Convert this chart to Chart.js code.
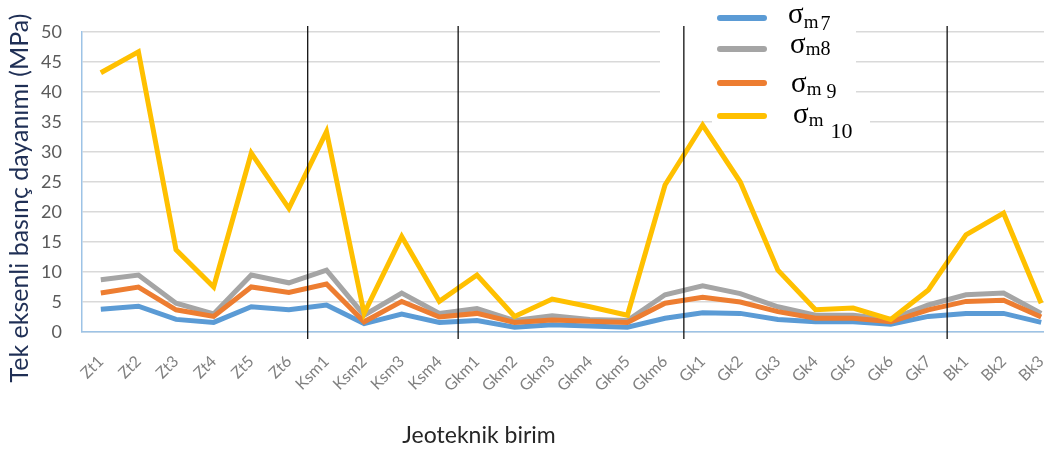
<!DOCTYPE html>
<html>
<head>
<meta charset="utf-8">
<script src="https://cdn.jsdelivr.net/npm/chart.js@4.4.1/dist/chart.umd.min.js"></script>
<style>
  html, body { margin: 0; padding: 0; background: #fff; overflow: hidden; }
  #wrap { width: 1060px; height: 455px; }
</style>
</head>
<body>
<div id="wrap"><canvas id="chart" width="1060" height="455"></canvas></div>
<script>
const units = ['Zt1', 'Zt2', 'Zt3', 'Zt4', 'Zt5', 'Zt6', 'Ksm1', 'Ksm2', 'Ksm3', 'Ksm4',
  'Gkm1', 'Gkm2', 'Gkm3', 'Gkm4', 'Gkm5', 'Gkm6', 'Gk1', 'Gk2', 'Gk3', 'Gk4', 'Gk5', 'Gk6', 'Gk7',
  'Bk1', 'Bk2', 'Bk3'];

const sigma7 = [3.8, 4.3, 2.1, 1.6, 4.2, 3.7, 4.5, 1.4, 3.0, 1.6, 1.9, 0.8, 1.2, 1.0, 0.8, 2.3,
  3.2, 3.1, 2.1, 1.7, 1.7, 1.3, 2.6, 3.1, 3.1, 1.6];
const sigma8 = [8.7, 9.5, 4.8, 3.0, 9.5, 8.2, 10.3, 2.8, 6.5, 3.1, 3.9, 1.9, 2.7, 2.1, 1.9, 6.2,
  7.7, 6.4, 4.2, 2.8, 2.8, 2.1, 4.5, 6.2, 6.5, 3.1];
const sigma9 = [6.5, 7.5, 3.7, 2.6, 7.5, 6.6, 8.0, 1.7, 5.1, 2.5, 3.1, 1.6, 2.0, 1.8, 1.6, 4.8,
  5.8, 5.0, 3.4, 2.3, 2.3, 1.7, 3.7, 5.1, 5.3, 2.5];
const sigma10 = [43.2, 46.7, 13.7, 7.5, 29.8, 20.6, 33.4, 3.1, 15.9, 5.1, 9.5, 2.6, 5.5, 4.2, 2.8, 24.5,
  34.5, 25.0, 10.3, 3.7, 4.0, 2.1, 7.0, 16.2, 19.8, 4.8];

// last unit of each group, a divider is drawn after it
const groupEnds = ['Zt6', 'Ksm4', 'Gkm6', 'Gk7'];

const yTicks = [0, 5, 10, 15, 20, 25, 30, 35, 40, 45, 50];

const legendItems = [
  { sub: 'm', idx: '7', color: '#5b9bd5' },
  { sub: 'm', idx: '8', color: '#a5a5a5' },
  { sub: 'm', idx: '9', color: '#ed7d31' },
  { sub: 'm', idx: '10', color: '#ffc000' }
];

const serif = '"Liberation Serif", "DejaVu Serif", serif';

// white box behind the pasted legend + custom legend with subscripts
const legendPlugin = {
  id: 'sigmaLegend',
  beforeDatasetsDraw(chart) {
    const ctx = chart.ctx;
    ctx.save();
    ctx.fillStyle = '#fff';
    ctx.fillRect(660, 0, 196, 100);
    ctx.fillRect(712, 100, 158, 42);
    ctx.restore();
  },
  afterDraw(chart) {
    const ctx = chart.ctx;
    const rows = [
      { y: 18, sx: 788, sy: 23, my: 28, iy: 30, gap: 2 },
      { y: 49, sx: 790, sy: 53, my: 55, iy: 55, gap: 0 },
      { y: 83, sx: 791, sy: 92, my: 95, iy: 98, gap: 5 },
      { y: 116, sx: 793, sy: 123, my: 126, iy: 138, gap: 7 }
    ];
    ctx.save();
    legendItems.forEach((it, i) => {
      const r = rows[i];
      ctx.strokeStyle = it.color;
      ctx.lineWidth = 6;
      ctx.lineCap = 'round';
      ctx.beginPath();
      ctx.moveTo(720, r.y);
      ctx.lineTo(764, r.y);
      ctx.stroke();

      ctx.fillStyle = '#000';
      ctx.textBaseline = 'alphabetic';
      ctx.textAlign = 'left';
      ctx.font = '29px ' + serif;
      ctx.fillText('σ', r.sx, r.sy);
      let x = r.sx + ctx.measureText('σ').width;
      ctx.font = '19px ' + serif;
      ctx.fillText(it.sub, x, r.my);
      x += ctx.measureText(it.sub).width + r.gap;
      ctx.font = (i === 3 ? '22px ' : '20px ') + serif;
      ctx.fillText(it.idx, x, r.iy);
    });
    ctx.restore();
  }
};

const dividerPlugin = {
  id: 'dividers',
  afterDatasetsDraw(chart) {
    const xs = chart.scales.x;
    const ctx = chart.ctx;
    ctx.save();
    ctx.strokeStyle = '#111';
    ctx.lineWidth = 1.3;
    groupEnds.forEach((name) => {
      const i = units.indexOf(name);
      const x = (xs.getPixelForValue(i) + xs.getPixelForValue(i + 1)) / 2;
      ctx.beginPath();
      ctx.moveTo(x, 26);
      ctx.lineTo(x, 339);
      ctx.stroke();
    });
    ctx.restore();
  }
};

const titlesPlugin = {
  id: 'axisTitles',
  afterDraw(chart) {
    const ctx = chart.ctx;
    ctx.save();
    ctx.textAlign = 'center';
    ctx.textBaseline = 'middle';
    ctx.fillStyle = '#1f2f55';
    ctx.font = '25px Lato';
    ctx.translate(20, 198);
    ctx.rotate(-Math.PI / 2);
    ctx.fillText('Tek eksenli basınç dayanımı (MPa)', 0, 0);
    ctx.restore();

    ctx.save();
    ctx.textAlign = 'center';
    ctx.textBaseline = 'middle';
    ctx.fillStyle = '#262626';
    ctx.font = '23px Lato';
    ctx.fillText('Jeoteknik birim', 479, 436);
    ctx.restore();
  }
};

function series(label, data, color, order) {
  return {
    label,
    data,
    borderColor: color,
    backgroundColor: color,
    borderWidth: 5,
    pointRadius: 0,
    tension: 0,
    order
  };
}

new Chart(document.getElementById('chart'), {
  type: 'line',
  data: {
    labels: units,
    datasets: [
      series('σm7', sigma7, '#5b9bd5', 3),
      series('σm8', sigma8, '#a5a5a5', 2),
      series('σm9', sigma9, '#ed7d31', 1),
      series('σm10', sigma10, '#ffc000', 0)
    ]
  },
  options: {
    responsive: false,
    animation: false,
    layout: { padding: { top: 32, left: 0, right: 0, bottom: 0 } },
    plugins: {
      legend: { display: false },
      tooltip: { enabled: false }
    },
    scales: {
      x: {
        offset: true,
        afterFit: (s) => { s.height = 123; s.paddingLeft = 0; s.paddingRight = 0; },
        grid: { display: false, drawTicks: false },
        border: { color: '#9dc3e6', width: 1.5 },
        ticks: {
          minRotation: 45,
          maxRotation: 45,
          padding: 20,
          color: '#808080',
          font: { family: 'Lato', size: 16 }
        }
      },
      y: {
        min: 0,
        max: 50,
        afterFit: (s) => { s.width = 82; },
        afterBuildTicks: (s) => { s.ticks = yTicks.map((v) => ({ value: v })); },
        grid: { color: '#d9d9d9', lineWidth: 1.5, drawTicks: false },
        border: { color: '#9dc3e6', width: 1.5 },
        ticks: {
          padding: 20,
          color: '#5a5a5a',
          font: { family: 'Lato', size: 18 }
        }
      }
    }
  },
  plugins: [legendPlugin, dividerPlugin, titlesPlugin]
});
</script>
</body>
</html>
